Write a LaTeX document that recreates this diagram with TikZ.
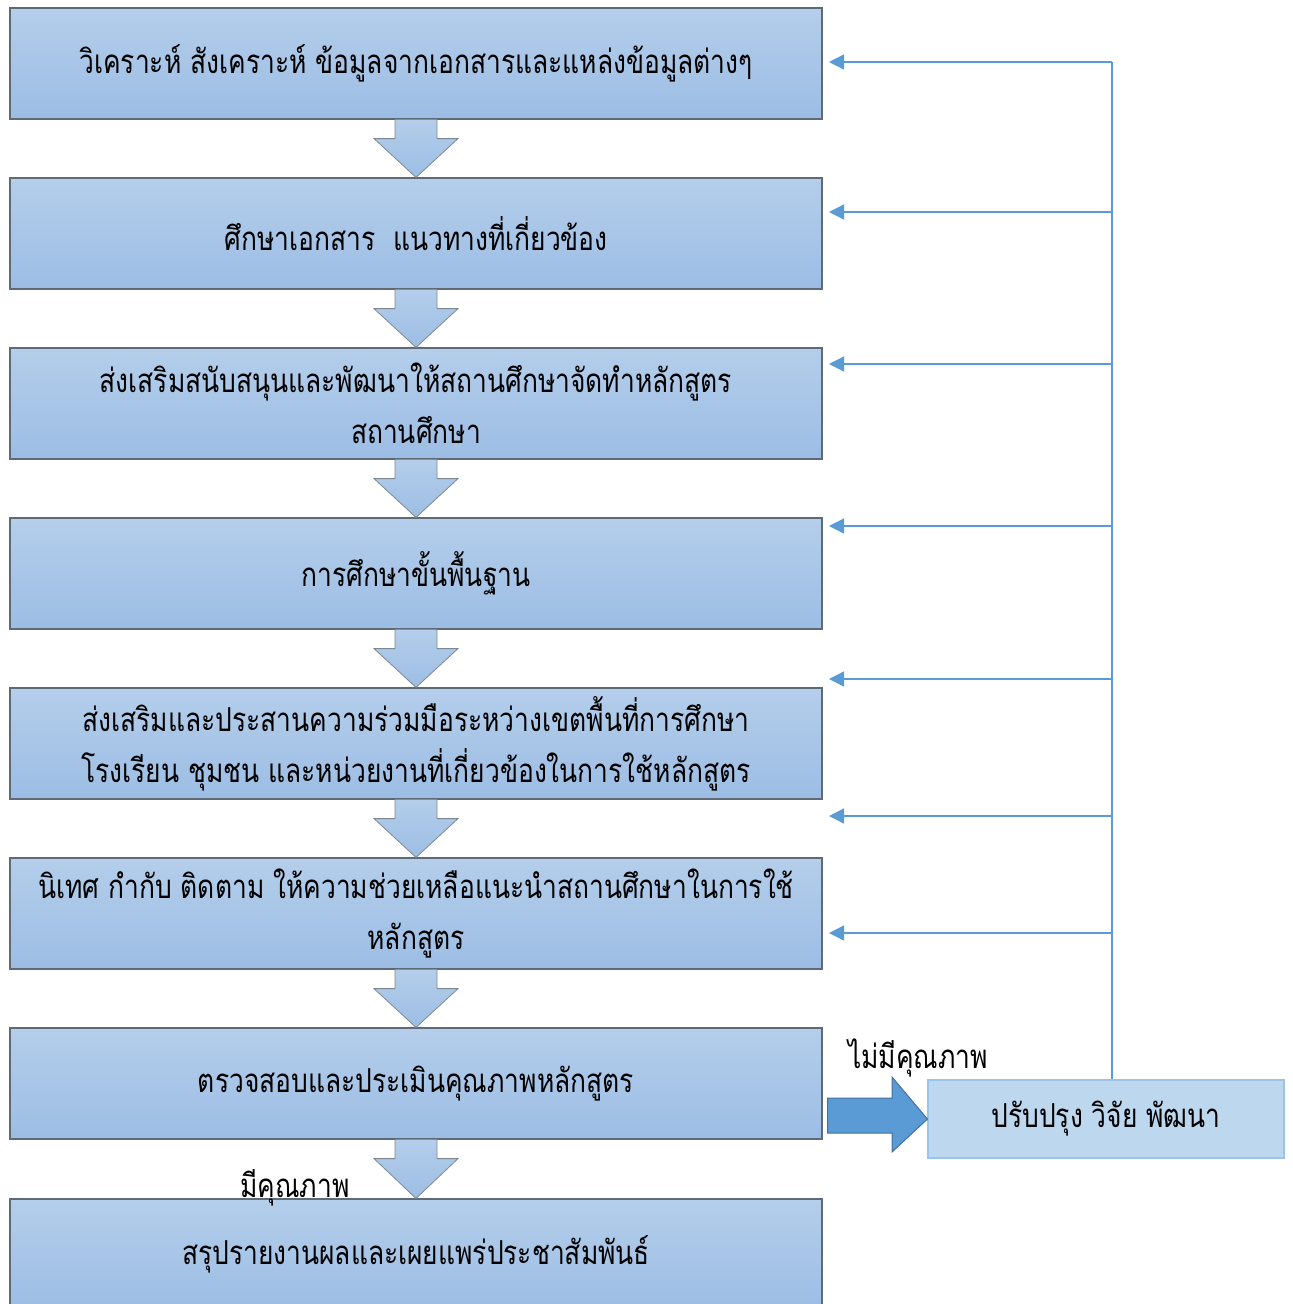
\documentclass[tikz,border=0pt]{standalone}
\usepackage{fontspec}
\newfontfamily\thai[Script=Thai,FakeStretch=0.8]{Loma}
\usetikzlibrary{arrows.meta}
\definecolor{boxtop}{HTML}{B4CEEB}
\definecolor{boxbot}{HTML}{9CBDE4}
\definecolor{boxline}{HTML}{5E6A76}
\definecolor{fbline}{HTML}{5B9BD5}
\definecolor{sidefill}{HTML}{BDD7EE}
\definecolor{sideline}{HTML}{9DC3E6}
\definecolor{bigfill}{HTML}{5B9BD5}
\definecolor{bigline}{HTML}{41719C}
\tikzset{
  stepbox/.style={rectangle, minimum width=812pt, minimum height=111pt, inner sep=0pt,
    top color=boxtop, bottom color=boxbot, draw=boxline, line width=1.2pt,
    font=\thai\fontsize{33}{51}\selectfont, align=center},
  sidebox/.style={rectangle, minimum width=356pt, minimum height=78pt, inner sep=0pt,
    fill=sidefill, draw=sideline, line width=1.2pt,
    font=\thai\fontsize{33}{51}\selectfont},
  downarrow/.style={top color=boxtop, bottom color=boxbot, draw=boxline!80, line width=0.8pt},
  fb/.style={draw=fbline, line width=1.3pt, -{Triangle[length=15pt,width=15pt]}},
  lbl/.style={font=\thai\fontsize{33}{36}\selectfont, inner sep=0pt},
}
\begin{document}
\begin{tikzpicture}[x=1pt,y=-1pt]
\useasboundingbox (0,0) rectangle (1293,1304);
\node[stepbox] (b1) at (416,63.5) {วิเคราะห์ สังเคราะห์ ข้อมูลจากเอกสารและแหล่งข้อมูลต่างๆ};
\node[stepbox] (b2) at (416,233.5) {ศึกษาเอกสาร\ \ แนวทางที่เกี่ยวข้อง};
\node[stepbox] (b3) at (416,403.5) {ส่งเสริมสนับสนุนและพัฒนาให้สถานศึกษาจัดทำหลักสูตร\\สถานศึกษา};
\node[stepbox] (b4) at (416,573.5) {การศึกษาขั้นพื้นฐาน};
\node[stepbox] (b5) at (416,743.5) {ส่งเสริมและประสานความร่วมมือระหว่างเขตพื้นที่การศึกษา\\โรงเรียน ชุมชน และหน่วยงานที่เกี่ยวข้องในการใช้หลักสูตร};
\node[stepbox] (b6) at (416,913.5) {นิเทศ กำกับ ติดตาม ให้ความช่วยเหลือแนะนำสถานศึกษาในการใช้\\หลักสูตร};
\node[stepbox] (b7) at (416,1083.5) {ตรวจสอบและประเมินคุณภาพหลักสูตร};
\node[stepbox] (b8) at (416,1254.5) {สรุปรายงานผลและเผยแพร่ประชาสัมพันธ์};
\node[sidebox] (rb) at (1106,1119) {ปรับปรุง วิจัย พัฒนา};
% down block arrows
\foreach \a/\b in {b1/b2,b2/b3,b3/b4,b4/b5,b5/b6,b6/b7,b7/b8}{
  \path[downarrow] ([xshift=-21pt]\a.south) -- ([xshift=-21pt,yshift=-19pt]\a.south)
    -- ([xshift=-42pt,yshift=-19pt]\a.south) -- (\b.north)
    -- ([xshift=42pt,yshift=-19pt]\a.south) -- ([xshift=21pt,yshift=-19pt]\a.south)
    -- ([xshift=21pt]\a.south);
}
% right block arrow
\path[fill=bigfill, draw=bigline, line width=1pt]
  ([xshift=5pt]b7.east |- 0,1098) -- (892,1098) -- (892,1077) -- (rb.west) -- (892,1152) -- (892,1133) -- ([xshift=5pt]b7.east |- 0,1133) -- cycle;
% feedback lines
\coordinate (top) at (1112,62);
\draw[fbline, line width=1.3pt] (rb.north -| top) -- (top);
\foreach \y/\n in {62/f1,212/f2,364/f3,526/f4,679/f5,816/f6,933/f7}{
  \coordinate (\n) at (829,\y);
  \draw[fb] (top |- \n) -- (\n);
}
\node[lbl] (nq) at (918,1058) {ไม่มีคุณภาพ};
\node[lbl] (yq) at (295,1188) {มีคุณภาพ};
\end{tikzpicture}
\end{document}
